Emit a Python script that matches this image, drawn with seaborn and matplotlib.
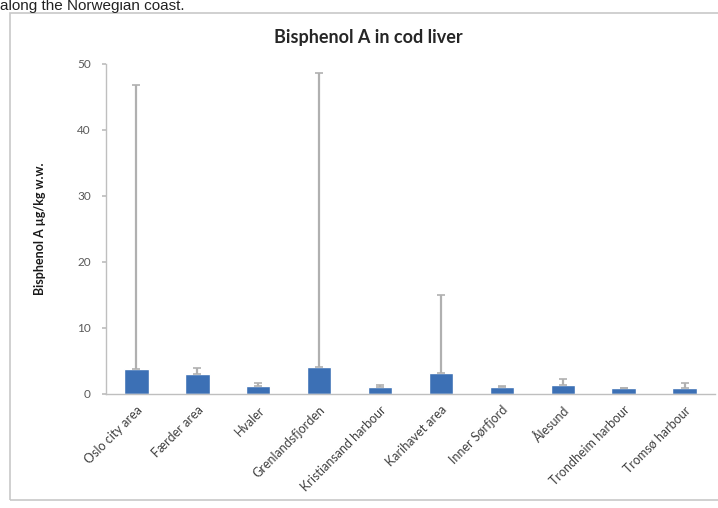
import matplotlib
matplotlib.use("Agg")
import matplotlib.pyplot as plt
import seaborn as sns
import pandas as pd
from matplotlib.patches import Rectangle

# Data
sites = ["Oslo city area", "Færder area", "Hvaler", "Grenlandsfjorden",
         "Kristiansand harbour", "Karihavet area", "Inner Sørfjord",
         "Ålesund", "Trondheim harbour", "Tromsø harbour"]
bpa_mean = [3.8, 3.0, 1.2, 4.1, 1.0, 3.2, 1.0, 1.4, 0.9, 0.9]
bpa_max = [46.8, 3.9, 1.7, 48.6, 1.3, 15.0, 1.2, 2.3, 0.9, 1.7]

df = pd.DataFrame({"site": sites, "mean": bpa_mean, "max": bpa_max})
df["err_up"] = df["max"] - df["mean"]

sns.set_theme(style="white")
plt.rcParams["font.family"] = ["Lato", "DejaVu Sans"]

fig = plt.figure(figsize=(7.18, 5.08), dpi=100)

# page text at the top of the crop
fig.text(0.0, 1 - 10 / 508, "along the Norwegian coast.", fontsize=11,
         family=["Liberation Sans", "DejaVu Sans"], color="#222222",
         ha="left", va="baseline")

# chart frame
fig.patches.append(Rectangle((10 / 718, 8 / 508), 1.0, 1 - 21 / 508,
                             transform=fig.transFigure, fill=False,
                             edgecolor="#c8c8c8", linewidth=1.2))

ax = fig.add_axes([106 / 718, 1 - 394 / 508, (715 - 106) / 718, (394 - 64) / 508])
sns.barplot(data=df, x="site", y="mean", color="#3c70b5", width=0.4,
            saturation=1, ax=ax)
ax.errorbar(range(len(df)), df["mean"], yerr=[[0] * len(df), df["err_up"]],
            fmt="none", ecolor="#b0b0b0", elinewidth=1.6, capsize=3, capthick=1.2)

ax.set_ylim(0, 50)
ax.set_xlim(-0.5, len(df) - 0.5)
ax.set_yticks([0, 10, 20, 30, 40, 50])
ax.tick_params(axis="y", labelsize=8.5, labelcolor="#595959", length=3,
               color="#bfbfbf", left=True, pad=8)
ax.tick_params(axis="x", length=0, pad=7)
ax.set_xticks(range(len(df)))
ax.set_xticklabels(sites, rotation=45, ha="right", rotation_mode="anchor",
                   fontsize=9, color="#404040")
ax.set_xlabel("")
ax.set_ylabel("Bisphenol A µg/kg w.w.", fontsize=9, fontweight="bold",
              color="#1a1a1a", labelpad=22)
for side in ["top", "right"]:
    ax.spines[side].set_visible(False)
for side in ["left", "bottom"]:
    ax.spines[side].set_color("#bfbfbf")
    ax.spines[side].set_linewidth(1.0)

fig.text(368 / 718, 1 - 38 / 508, "Bisphenol A in cod liver", fontsize=13,
         fontweight="bold", color="#262626", ha="center", va="center")

fig.savefig("out.png", dpi=100)
